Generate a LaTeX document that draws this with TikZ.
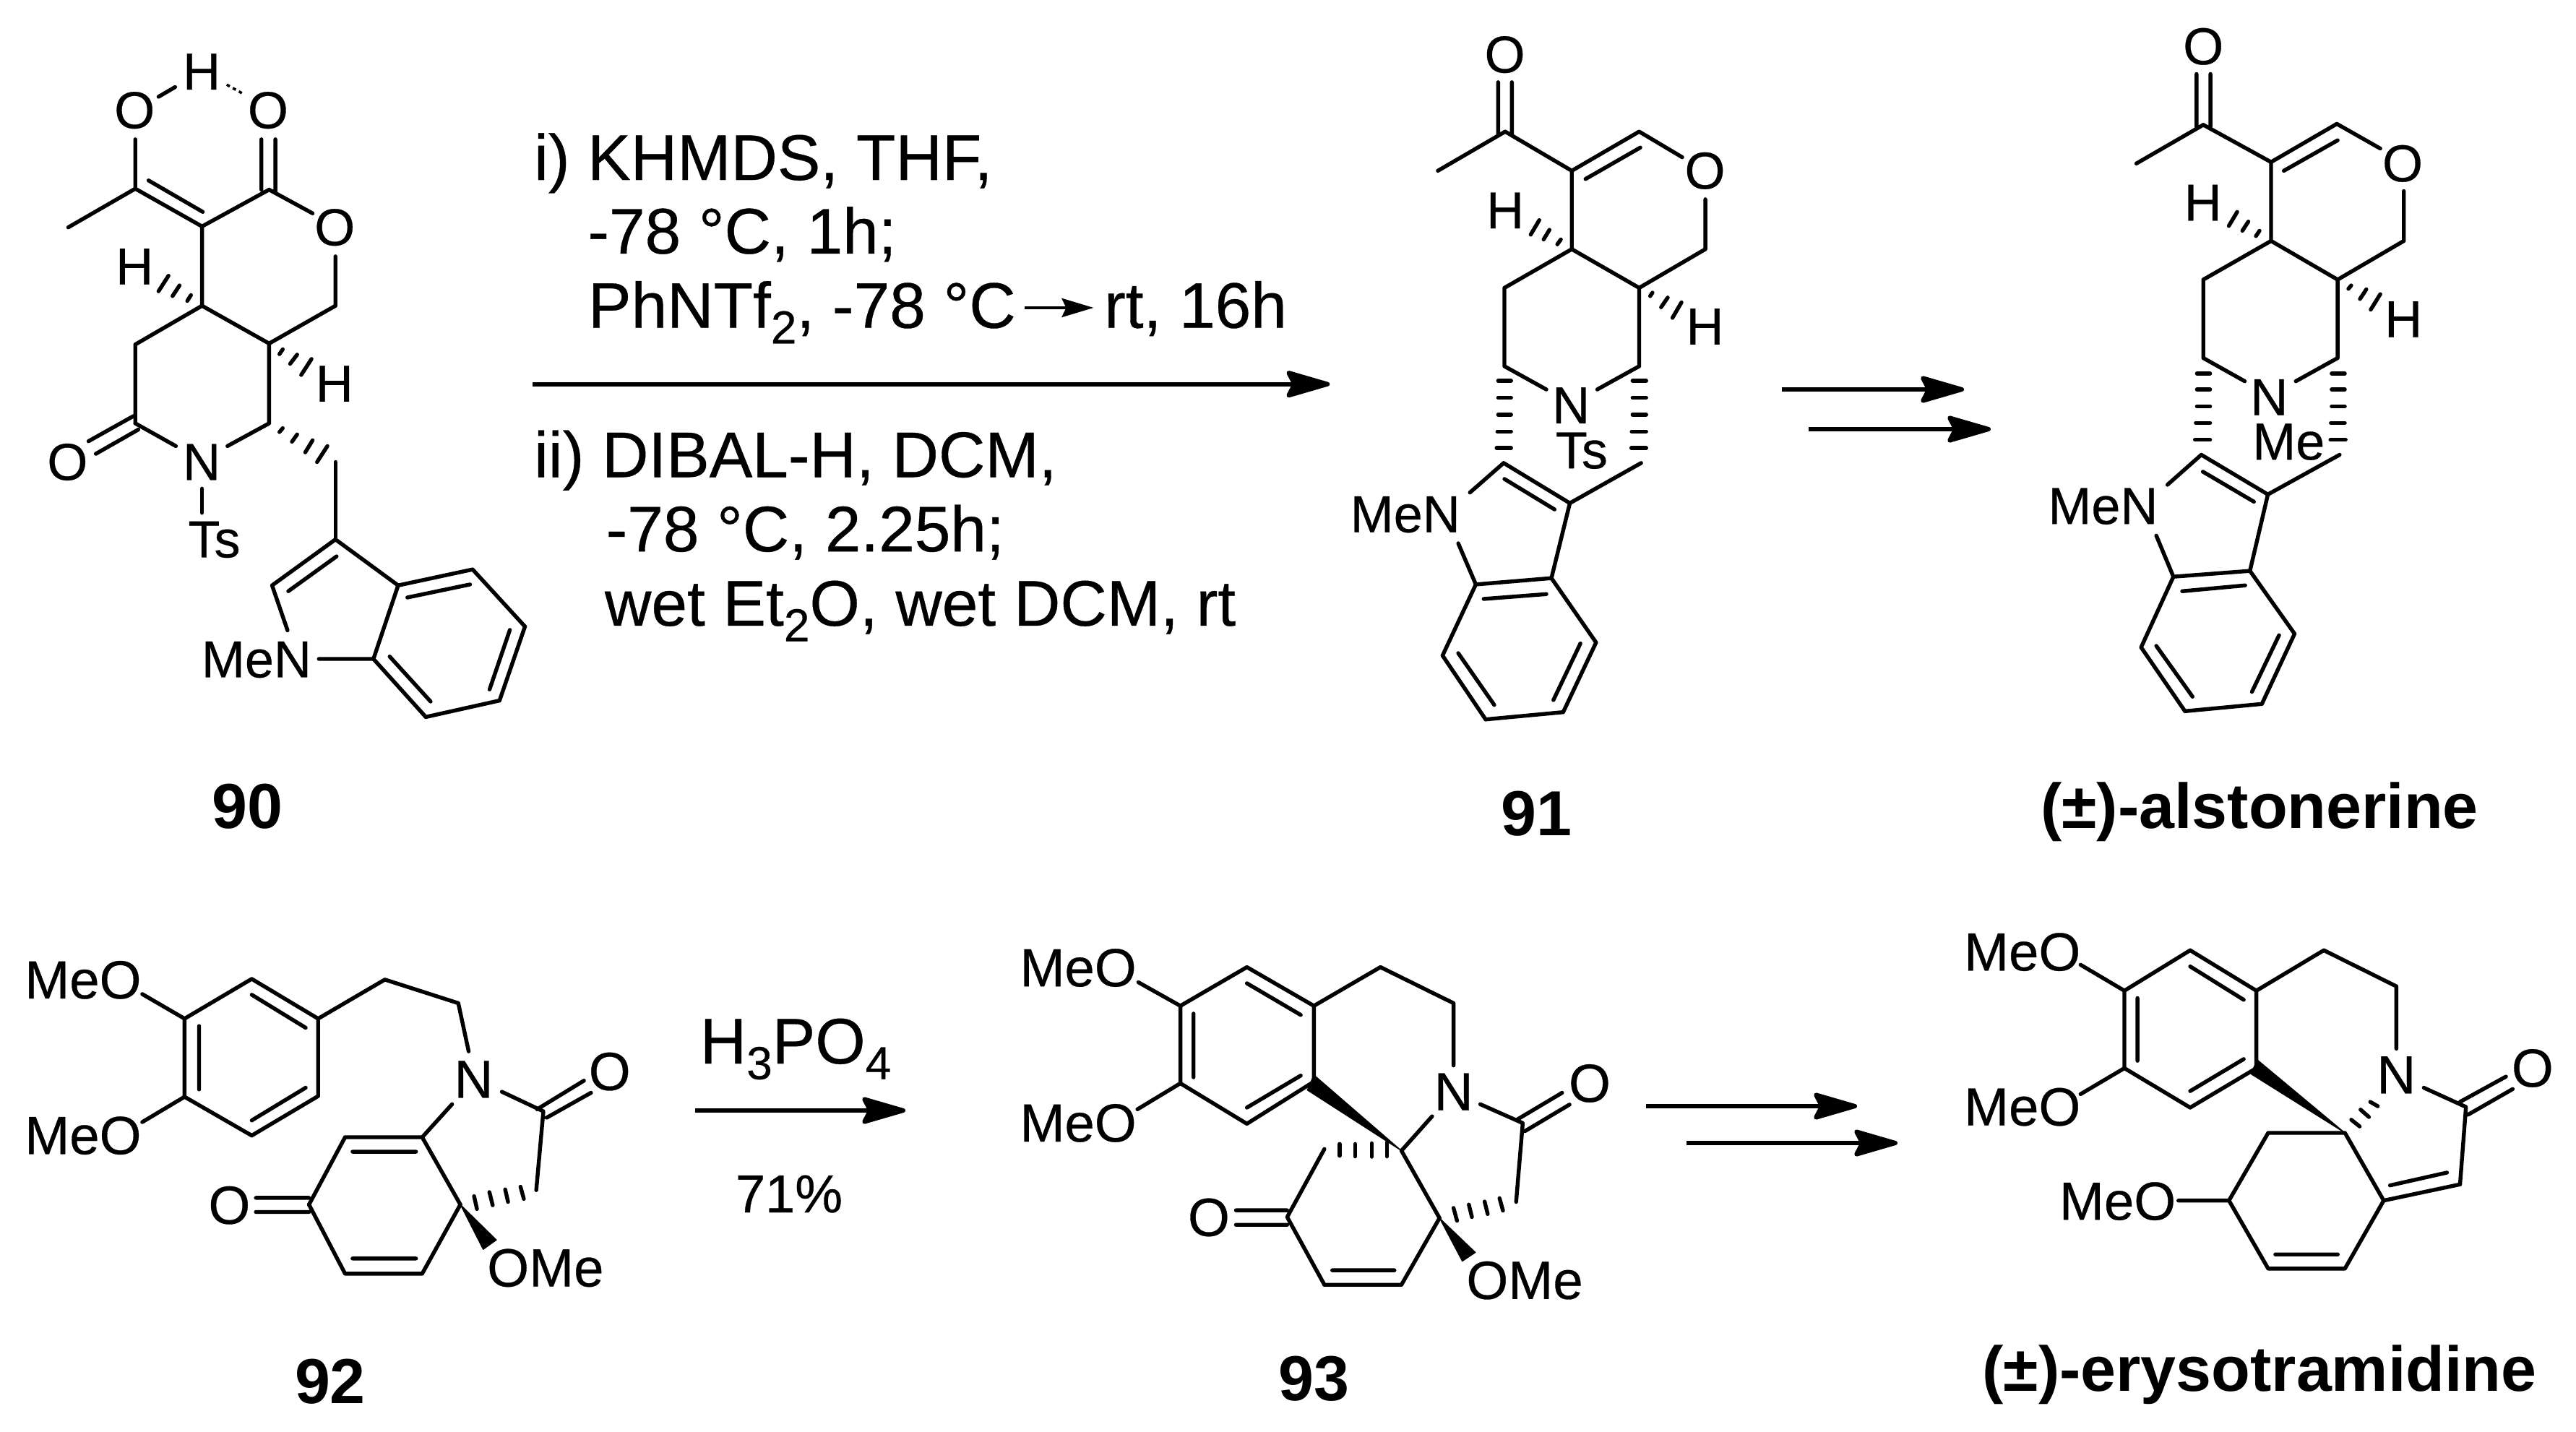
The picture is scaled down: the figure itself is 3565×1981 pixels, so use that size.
\documentclass[tikz,border=0pt]{standalone}
\usepackage{fontspec}
\setmainfont{Liberation Sans}
\newfontfamily\hv[FakeBold=0.4]{Liberation Sans}
\usetikzlibrary{arrows.meta}
\newcommand{\subsc}[1]{\raisebox{-5.4pt}{\fontsize{16}{18}\selectfont #1}}
\tikzset{
  zv/.style n args={4}{shift={(#1*0.25pt,-#2*0.25pt)},x={#3/1568*0.25pt},y={-#4/1568*0.25pt}},
  bonds/.style={line width=1.35pt,line cap=round,line join=round},
  atom/.style={inner sep=0pt,anchor=base,font=\hv\fontsize{18}{20}\selectfont},
  atomb/.style={inner sep=0pt,anchor=base,font=\hv\fontsize{18.6}{20}\selectfont},
  reag/.style={inner sep=0pt,anchor=base west,font=\hv\fontsize{22.3}{24}\selectfont},
  cmpd/.style={inner sep=0pt,anchor=base,font=\fontsize{22}{24}\selectfont\bfseries},
  rxn/.style={line width=1.5pt,-{Stealth[length=17.5pt,width=10pt,inset=2.5pt,round]}},
  rxnsmall/.style={line width=1pt,-{Stealth[length=11pt,width=6.5pt,inset=1.5pt]}},
  wedge/.style={fill=black,draw=black,line width=0.3pt,line join=round}
}
\begin{document}
\begin{tikzpicture}[x=0.25pt,y=-0.25pt]
\fill[white] (0,0) rectangle (3565,1981);
\useasboundingbox (0,0) rectangle (3565,1981);

% ---------- 90
\begin{scope}[zv={0}{0}{800}{1050},bonds]
\draw (185,470)--(367,390) (367,390)--(548,468) (403,373)--(550,438) (367,288)--(367,390);
\draw (430,200)--(475,180);
\draw[line width=0.9pt,dash pattern=on 1.2pt off 1.2pt,line cap=butt] (615,175)--(662,195);
\draw (709,288)--(709,392) (747,288)--(747,395) (548,468)--(730,392) (730,392)--(848,441);
\draw (910,530)--(910,632) (910,632)--(730,710) (730,710)--(548,632) (548,468)--(548,632);
\draw (430,602)--(457,570) (468,612)--(487,590) (508,622)--(518,610);
\draw (548,632)--(367,712) (367,712)--(367,875);
\draw (240,912)--(362,860) (260,938)--(375,888) (367,875)--(477,922) (617,922)--(730,875) (730,875)--(730,710);
\draw (758,732)--(767,722) (787,752)--(806,733) (817,775)--(845,742);
\draw (758,893)--(767,885) (792,913)--(806,898) (828,935)--(848,910) (860,955)--(888,922);
\draw (910,955)--(910,1115) (548,1010)--(548,1060);
\draw (910,1115)--(738,1210) (782,1222)--(913,1150) (738,1210)--(780,1303);
\draw (865,1362)--(1013,1362) (1013,1362)--(1080,1210) (910,1115)--(1080,1210);
\draw (1080,1210)--(1282,1177) (1105,1235)--(1275,1208) (1282,1177)--(1424,1295);
\draw (1424,1295)--(1355,1448) (1383,1302)--(1328,1425) (1355,1448)--(1155,1482);
\draw (1155,1482)--(1013,1362) (1168,1450)--(1057,1357);
\node[atom] (a90o1) at (365,265) {O};
\node[atom] (a90h1) at (547,185) {H};
\node[atom] (a90o2) at (727,265) {O};
\node[atom] (a90o3) at (908,507) {O};
\node[atom] (a90h2) at (365,588) {H};
\node[atom] (a90h3) at (907,830) {H};
\node[atom] (a90o4) at (183,992) {O};
\node[atom] (a90n1) at (547,992) {N};
\node[atom] (a90ts) at (581,1152) {Ts};
\node[atom,anchor=base east] (a90men) at (850,1400) {MeN};
\node[cmpd] (l90) at (342/0.5102,1146/0.6696) {90};
\end{scope}

% ---------- reagents
\begin{scope}[zv={700}{150}{1200}{750}]
\node[reag] (r1) at (50,207) {i) KHMDS, THF,};
\node[reag] (r2) at (147,420) {-78 °C, 1h;};
\node[reag] (r3) at (148,635) {PhNTf\subsc{2}, -78 °C};
\node[reag] (r3b) at (1081,635) {rt, 16h};
\node[reag] (r4) at (50,1067) {ii) DIBAL-H, DCM,};
\node[reag] (r5) at (180,1282) {-78 °C, 2.25h;};
\node[reag] (r6) at (178,1497) {wet Et\subsc{2}O, wet DCM, rt};
\coordinate (s1) at (938,577);
\coordinate (e1) at (1063,577);
\coordinate (s2) at (48,798);
\coordinate (e2) at (1490,798);
\draw[rxnsmall] (s1)--(e1);
\draw[rxn] (s2)--(e2);
\end{scope}

% ---------- 91
\begin{scope}[zv={1850}{0}{850}{1050},bonds]
\draw (258,353)--(430,272) (412,170)--(412,278) (447,170)--(447,278) (430,272)--(600,353);
\draw (600,353)--(772,272) (635,370)--(775,305) (772,272)--(882,325);
\draw (941,412)--(941,515) (941,515)--(772,595) (772,595)--(600,515) (600,353)--(600,515);
\draw (600,515)--(428,595) (428,595)--(428,757) (428,757)--(535,805) (665,805)--(772,757) (772,757)--(772,595);
\draw (495,485)--(517,455) (528,495)--(543,475) (563,505)--(572,495);
\draw (800,612)--(806,605) (828,635)--(845,615) (857,657)--(880,625);
\draw (412,787)--(445,787) (412,822)--(445,822) (412,857)--(445,857) (410,892)--(445,892) (408,926)--(445,926);
\draw (755,787)--(790,787) (755,822)--(790,822) (755,857)--(790,857) (753,892)--(790,892) (752,926)--(790,926);
\draw (426,957)--(595,1040) (428,990)--(556,1053) (595,1040)--(777,957) (426,957)--(340,1018);
\draw (310,1123)--(355,1208) (355,1208)--(548,1195) (375,1238)--(535,1228) (595,1040)--(548,1195);
\draw (548,1195)--(662,1328) (662,1328)--(578,1472) (622,1330)--(553,1447) (578,1472)--(380,1487);
\draw (380,1487)--(270,1355) (402,1457)--(310,1350) (270,1355)--(355,1208);
\node[atom] (a91o1) at (429,150) {O};
\node[atom] (a91o2) at (940,390) {O};
\node[atom] (a91h1) at (430,472) {H};
\node[atom] (a91h2) at (940,712) {H};
\node[atom] (a91n) at (598,875) {N};
\node[atom] (a91ts) at (625,968) {Ts};
\node[atom,anchor=base east] (a91men) at (320,1100) {MeN};
\end{scope}
\node[cmpd] (l91) at (2126,1156) {91};

% ---------- alstonerine
\begin{scope}[zv={2700}{0}{865}{1050},bonds]
\draw (465,338)--(633,258) (616,153)--(616,262) (651,153)--(651,262) (633,258)--(803,335);
\draw (803,335)--(968,256) (835,353)--(970,290) (968,256)--(1077,307);
\draw (1136,395)--(1136,498) (1136,498)--(970,578) (970,578)--(803,498) (803,335)--(803,498);
\draw (803,498)--(633,578) (633,578)--(633,740) (633,740)--(737,788) (865,788)--(970,740) (970,740)--(970,578);
\draw (697,467)--(718,438) (731,477)--(746,458) (765,488)--(774,477);
\draw (997,597)--(1004,590) (1026,618)--(1042,598) (1053,640)--(1077,608);
\draw (617,772)--(650,772) (617,805)--(650,805) (617,840)--(650,840) (614,874)--(650,874) (612,909)--(650,909);
\draw (955,772)--(988,772) (955,805)--(988,805) (955,840)--(988,840) (953,874)--(988,874) (952,909)--(990,909);
\draw (628,940)--(795,1022) (632,975)--(760,1037) (795,1022)--(975,940) (628,940)--(543,1002);
\draw (515,1107)--(558,1192) (558,1192)--(750,1180) (580,1222)--(738,1210) (795,1022)--(750,1180);
\draw (750,1180)--(862,1310) (862,1310)--(780,1455) (823,1313)--(755,1430) (780,1455)--(587,1470);
\draw (587,1470)--(477,1338) (606,1440)--(515,1335) (477,1338)--(558,1192);
\node[atom] (a92o1) at (633,133) {O};
\node[atom] (a92o2) at (1133,375) {O};
\node[atom] (a92h1) at (632,456) {H};
\node[atom] (a92h2) at (1135,697) {H};
\node[atom] (a92n) at (798,858) {N};
\node[atom] (a92me) at (847,950) {Me};
\node[atom,anchor=base east] (a92men) at (524,1083) {MeN};
\end{scope}
\node[cmpd] (lals) at (3127,1146) {(±)-alstonerine};
\coordinate (s3) at (2466,539);
\coordinate (e3) at (2718,539);
\coordinate (s4) at (2503,594);
\coordinate (e4) at (2755,594);
\draw[rxn] (s3)--(e3);
\draw[rxn] (s4)--(e4);

% ---------- 92
\begin{scope}[zv={0}{1250}{900}{731},bonds]
\draw (343,270)--(445,343) (445,343)--(607,225) (607,225)--(767,343) (607,272)--(737,370);
\draw (767,343)--(767,573) (767,573)--(607,690) (737,548)--(607,645) (607,690)--(445,575);
\draw (445,575)--(445,343) (480,365)--(480,553) (445,575)--(343,650);
\draw (767,343)--(928,227) (928,227)--(1105,297) (1105,297)--(1130,440);
\draw (1210,560)--(1310,618) (1295,612)--(1408,527) (1318,637)--(1425,563) (1310,620)--(1293,852);
\draw (1143,870)--(1150,908) (1180,858)--(1188,897) (1218,850)--(1225,887) (1255,842)--(1263,878);
\draw (1090,597)--(1018,695) (1018,695)--(832,695) (850,738)--(1003,738) (1018,695)--(1110,895) (832,695)--(745,895);
\draw (617,875)--(745,875) (617,917)--(745,917) (745,895)--(832,1100) (832,1100)--(1018,1100) (850,1055)--(1003,1055) (1018,1100)--(1110,895);
\path[wedge] (1110,895)--(1197,1000)--(1165,1028)--cycle;
\node[atomb,anchor=base west] (a93m1) at (55,283) {MeO};
\node[atomb,anchor=base west] (a93m2) at (55,745) {MeO};
\node[atomb] (a93n) at (1142,578) {N};
\node[atomb] (a93o1) at (1470,555) {O};
\node[atomb] (a93o2) at (553,952) {O};
\node[atomb,anchor=base west] (a93ome) at (1170,1138) {OMe};
\end{scope}
\node[cmpd] (l92) at (457,1942) {92};

% ---------- H3PO4 arrow
\node[reag] (h3po4) at (968,1472) {H\subsc{3}PO\subsc{4}};
\node[inner sep=0pt,anchor=base,font=\hv\fontsize{18.5}{20}\selectfont] (yld) at (1092,1678) {71\%};
\coordinate (s5) at (962,1537);
\coordinate (e5) at (1253,1537);
\draw[rxn] (s5)--(e5);

% ---------- 93
\begin{scope}[zv={1350}{1250}{950}{731},bonds]
\draw (372,235)--(468,305) (468,305)--(620,190) (620,190)--(773,305) (620,238)--(743,332);
\draw (773,305)--(773,520) (773,530)--(620,655) (743,512)--(620,607) (620,655)--(468,535);
\draw (468,535)--(468,305) (498,328)--(498,517) (468,535)--(370,612);
\draw (773,305)--(925,190) (925,190)--(1092,297) (1092,297)--(1092,482);
\draw (1153,597)--(1250,653) (1238,642)--(1340,563) (1255,677)--(1357,598) (1250,655)--(1235,887);
\path[wedge] (973,735)--(773,510)--(758,555)--cycle;
\draw (973,735)--(1043,633) (973,735)--(1060,935);
\draw (832,715)--(832,750) (867,715)--(867,752) (905,713)--(905,753) (940,710)--(940,752);
\draw (797,730)--(712,932) (595,912)--(712,912) (595,955)--(712,955) (712,932)--(797,1133);
\draw (797,1133)--(973,1133) (815,1090)--(957,1090) (973,1133)--(1060,935);
\draw (1092,905)--(1100,943) (1127,895)--(1134,932) (1163,886)--(1170,923) (1197,876)--(1205,913);
\path[wedge] (1060,935)--(1142,1037)--(1112,1063)--cycle;
\node[atomb,anchor=base west] (a94m1) at (97,247) {MeO};
\node[atomb,anchor=base west] (a94m2) at (97,708) {MeO};
\node[atomb] (a94n) at (1092,615) {N};
\node[atomb] (a94o1) at (1403,590) {O};
\node[atomb] (a94o2) at (533,988) {O};
\node[atomb,anchor=base west] (a94ome) at (1117,1175) {OMe};
\end{scope}
\node[cmpd] (l93) at (1818,1938) {93};
\coordinate (s6) at (2278,1531);
\coordinate (e6) at (2570,1531);
\coordinate (s7) at (2334,1582);
\coordinate (e7) at (2626,1582);
\draw[rxn] (s6)--(e6);
\draw[rxn] (s7)--(e7);

% ---------- erysotramidine
\begin{scope}[zv={2650}{1250}{915}{731},bonds]
\draw (393,183)--(497,260) (497,260)--(653,140) (653,140)--(810,260) (653,188)--(780,287);
\draw (810,260)--(810,490) (810,490)--(653,607) (780,463)--(653,558) (653,607)--(497,490);
\draw (497,490)--(497,260) (528,282)--(528,468) (497,490)--(393,567);
\draw (810,260)--(970,140) (970,140)--(1142,247) (1142,247)--(1142,432);
\draw (1207,548)--(1307,605) (1293,590)--(1402,515) (1312,628)--(1418,552) (1307,607)--(1293,835);
\draw (1293,835)--(1112,883) (1262,800)--(1127,838);
\path[wedge] (1020,682)--(812,465)--(797,507)--cycle;
\draw (1035,643)--(1055,663) (1057,613)--(1077,635) (1080,590)--(1098,603);
\draw (1020,682)--(838,682) (838,682)--(745,883) (1020,682)--(1112,883) (625,883)--(745,883);
\draw (745,883)--(838,1085) (838,1085)--(1020,1085) (855,1043)--(1003,1043) (1020,1085)--(1112,883);
\node[atomb,anchor=base west] (a95m1) at (112,200) {MeO};
\node[atomb,anchor=base west] (a95m2) at (112,660) {MeO};
\node[atomb,anchor=base west] (a95m3) at (338,940) {MeO};
\node[atomb] (a95n) at (1142,565) {N};
\node[atomb] (a95o) at (1465,545) {O};
\end{scope}
\node[cmpd] (lery) at (3127,1925) {(±)-erysotramidine};
\end{tikzpicture}
\end{document}
